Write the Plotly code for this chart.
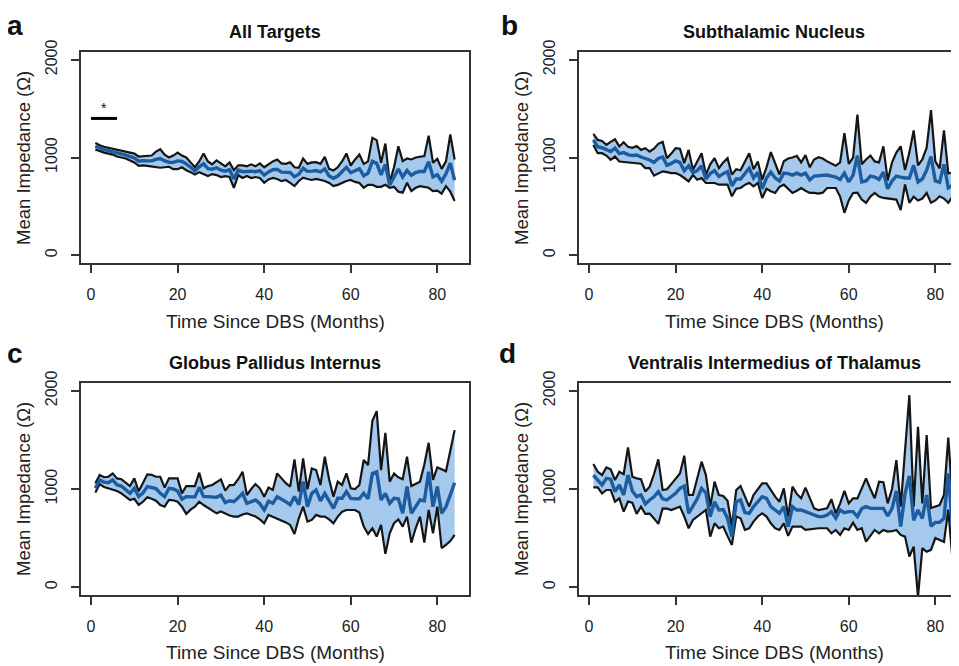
import plotly.graph_objects as go

months = list(range(1, 85))

# ---- Panel a: All Targets ----
upper_a = [1150,1125,1110,1100,1090,1080,1070,1060,1050,1040,
           1010,1015,1015,1020,1060,1085,1030,1000,1020,1050,
           1020,1000,950,900,960,1040,960,930,970,940,
           910,950,870,920,920,910,930,910,940,900,
           930,960,980,940,935,952,900,895,990,935,
           950,952,935,1007,884,867,900,960,1041,918,
           980,1030,935,960,1201,1178,946,1143,745,900,
           1115,963,990,980,1000,1010,1014,1224,946,986,
           884,960,1235,980]
lower_a = [1082,1065,1050,1040,1030,1010,1000,990,970,950,
           915,920,915,910,900,895,900,905,880,880,
           900,870,850,825,850,830,810,830,820,800,
           810,800,690,820,790,810,790,800,790,741,
           776,790,780,758,770,740,707,760,793,780,
           770,780,770,760,740,707,720,740,760,770,
           750,740,690,720,720,700,700,720,690,700,
           650,640,742,656,690,707,700,690,656,660,
           630,707,650,554]
mean_a = [1115,1095,1080,1070,1060,1045,1035,1025,1010,995,
          962,968,965,965,980,990,965,952,950,965,
          960,935,900,862,905,935,885,880,895,870,
          860,875,780,870,855,860,860,855,865,820,
          853,875,880,850,852,846,803,828,890,858,
          860,866,852,883,812,787,810,850,900,844,
          865,885,812,840,960,940,823,930,718,800,
          883,800,866,818,845,858,857,957,801,823,
          757,833,943,767]

# ---- Panel b: Subthalamic Nucleus ----
upper_b = [1241,1180,1170,1129,1160,1186,1112,1156,1110,1100,
           1118,1078,1095,1061,1090,1140,1160,993,1040,1095,
           1090,942,1078,875,960,1044,824,930,993,892,
           950,993,824,880,870,960,1044,880,959,773,
           900,1055,940,826,962,990,1000,1017,950,1024,
           900,980,1003,990,960,940,915,950,1248,935,
           1000,1439,930,980,1020,960,950,1115,765,950,
           1050,1115,871,1050,1278,920,980,1100,1486,960,
           888,1278,837,844]
lower_b = [1129,1044,1044,1020,976,1010,959,955,950,945,
           940,936,892,892,814,840,858,850,841,841,
           820,790,756,820,773,790,739,739,739,722,
           722,722,603,680,688,720,740,705,740,586,
           680,654,637,700,722,680,637,660,688,660,
           637,637,630,640,688,688,688,600,434,560,
           637,640,569,536,600,637,600,586,580,569,
           569,462,724,536,600,560,580,637,536,560,
           603,580,536,603]
mean_b = [1180,1110,1100,1075,1060,1095,1040,1050,1030,1020,
          1025,1005,990,975,950,990,1005,920,940,965,
          950,865,915,845,865,915,780,835,865,805,
          835,855,710,780,780,840,890,790,850,680,
          790,850,790,760,840,835,820,840,820,840,
          770,810,815,815,820,810,800,775,840,750,
          820,1020,750,760,810,800,775,850,680,760,
          810,800,790,790,920,750,780,870,1010,760,
          745,930,690,715]

# ---- Panel c: Globus Pallidus Internus ----
upper_c = [1058,1142,1120,1125,1159,1108,1100,1060,1030,1108,
           976,1060,1149,1145,1125,1125,1014,1108,1108,1108,
           956,1030,1030,1030,1166,1007,1030,1041,1070,1098,
           983,1040,1041,1100,1176,939,1000,1051,1007,922,
           1014,990,1159,1108,1060,1024,1302,973,1312,997,
           1210,1193,1041,1329,1100,922,1075,1041,1159,1007,
           1000,1041,1295,1244,1695,1793,1193,1573,1075,1159,
           1120,1100,1329,1030,1050,1075,1250,1471,1092,1220,
           1200,1180,1390,1600]
lower_c = [963,1051,1020,1007,1000,980,956,920,888,900,
           837,870,915,900,880,837,820,888,885,870,
           820,746,790,820,871,837,810,786,752,770,
           746,730,719,719,740,752,735,719,690,651,
           736,719,700,685,660,634,542,702,820,668,
           685,736,719,719,690,651,719,769,786,786,
           786,760,617,542,600,515,634,339,549,651,
           690,617,719,454,600,719,454,786,549,820,
           397,430,470,532]
mean_c = [1007,1092,1070,1065,1092,1041,1030,990,956,1007,
          922,960,1024,1015,1005,956,922,1007,1000,980,
          895,922,922,920,1017,922,922,915,915,939,
          861,880,871,910,956,854,870,888,850,786,
          875,854,922,900,871,840,922,840,1075,820,
          956,990,880,956,880,803,905,905,973,905,
          900,900,956,900,1159,1176,888,956,854,905,
          900,752,1024,752,820,888,880,1176,820,1024,
          752,820,940,1064]

# ---- Panel d: Ventralis Intermedius of Thalamus ----
upper_d = [1254,1176,1142,1220,1200,1092,1176,1150,1424,1125,
           1108,1100,973,1024,1150,1302,990,997,1050,1108,
           1159,1339,939,939,1100,1278,1142,820,1075,939,
           929,880,617,990,1030,920,820,939,1000,1058,
           1058,990,922,871,1007,719,1024,950,905,1014,
           900,803,786,795,803,895,752,850,980,854,
           905,905,1000,1108,1000,905,1075,1070,854,1000,
           1295,820,1390,1956,820,1634,854,1549,806,820,
           837,939,1525,888]
lower_d = [1017,1017,956,990,990,871,905,769,871,860,
           746,820,746,750,700,644,803,800,786,800,
           820,720,600,685,720,752,786,515,651,600,
           617,520,430,719,702,583,600,668,720,752,
           719,650,600,583,651,522,617,617,617,583,
           590,600,600,600,600,549,583,532,600,583,
           658,583,600,464,530,583,549,583,566,570,
           583,532,515,312,413,-100,397,360,380,500,
           480,460,790,261]
mean_d = [1142,1092,1041,1108,1100,973,1041,939,1142,980,
          922,940,847,888,920,973,900,888,920,956,
          1007,1030,752,820,900,1007,960,719,871,786,
          790,700,515,871,888,760,752,820,870,922,
          905,820,786,752,820,617,820,786,786,769,
          750,735,719,719,735,769,702,786,759,769,
          769,719,800,820,803,803,803,803,725,800,
          980,617,950,1134,680,786,700,939,620,660,
          660,700,1159,583]

titles = ["All Targets", "Subthalamic Nucleus",
          "Globus Pallidus Internus", "Ventralis Intermedius of Thalamus"]
letters = ["a", "b", "c", "d"]
x_ticks = [0, 20, 40, 60, 80]
y_ticks = [0, 1000, 2000]
x_title = "Time Since DBS (Months)"
y_title = "Mean Impedance (Ω)"

# significance marker in panel a
sig_x = [0, 6]
sig_y = 1400
sig_label = "*"

panels = [(upper_a, lower_a, mean_a), (upper_b, lower_b, mean_b),
          (upper_c, lower_c, mean_c), (upper_d, lower_d, mean_d)]
for p in panels:
    for s in p:
        assert len(s) == 84, len(s)

W, H = 959, 666
OFF = 8  # page body margin offset
FILL = "#a5c9ec"
MEAN = "#1c5c9f"
EDGE = "#151515"
AXC = "#333333"
FONT = "Liberation Sans, Arial, sans-serif"

def fx(p):
    return (p - OFF) / W

def fy(p):
    return 1 - (p - OFF) / H

fig = go.Figure()

for i, (up, lo, mn) in enumerate(panels):
    ax = "" if i == 0 else str(i + 1)
    xr, yr = "x" + ax, "y" + ax
    fig.add_trace(go.Scatter(x=months, y=lo, mode="lines", line=dict(width=0, color=FILL),
                             xaxis=xr, yaxis=yr, showlegend=False, hoverinfo="skip"))
    fig.add_trace(go.Scatter(x=months, y=up, mode="lines", line=dict(width=0, color=FILL),
                             fill="tonexty", fillcolor=FILL,
                             xaxis=xr, yaxis=yr, showlegend=False, hoverinfo="skip"))
    fig.add_trace(go.Scatter(x=months, y=lo, mode="lines", line=dict(width=2.2, color=EDGE),
                             xaxis=xr, yaxis=yr, showlegend=False))
    fig.add_trace(go.Scatter(x=months, y=up, mode="lines", line=dict(width=2.2, color=EDGE),
                             xaxis=xr, yaxis=yr, showlegend=False))
    fig.add_trace(go.Scatter(x=months, y=mn, mode="lines", line=dict(width=3.4, color=MEAN),
                             xaxis=xr, yaxis=yr, showlegend=False))

# significance bar
fig.add_trace(go.Scatter(x=sig_x, y=[sig_y, sig_y], mode="lines",
                         line=dict(width=3, color="black"), showlegend=False,
                         xaxis="x", yaxis="y"))

left_x = [fx(81), fx(469)]
right_x = [fx(579), min(1.0, fx(967))]
top_y = [fy(263), fy(52)]
bot_y = [fy(595), fy(383)]
xr_left = [-2.32, 87.32]
xr_right = [-2.32, 87.32]
yrange = [-80, 2080]

common_x = dict(tickvals=x_ticks, ticks="outside", ticklen=8, tickwidth=1.5, tickcolor=AXC,
                showline=True, linecolor=AXC, linewidth=1.5, mirror=True, automargin=False,
                showgrid=False, zeroline=False, ticklabelstandoff=8,
                tickfont=dict(family=FONT, size=16, color="#222"))
common_y = dict(tickvals=y_ticks, ticks="outside", ticklen=8, tickwidth=1.5, tickcolor=AXC,
                showline=True, linecolor=AXC, linewidth=1.5, automargin=False,
                showgrid=False, zeroline=False, tickangle=-90, range=yrange,
                ticklabelstandoff=8,
                tickfont=dict(family=FONT, size=16, color="#222"))

layout = dict(
    width=W, height=H, margin=dict(l=0, r=0, t=0, b=0, autoexpand=False),
    paper_bgcolor="white", plot_bgcolor="white", showlegend=False,
    font=dict(family=FONT, color="#222"),
    xaxis=dict(domain=left_x, range=xr_left, anchor="y", **common_x),
    yaxis=dict(domain=top_y, anchor="x", mirror=True, **common_y),
    xaxis2=dict(domain=right_x, range=xr_right, anchor="y2", **common_x),
    yaxis2=dict(domain=top_y, anchor="x2", mirror=True, **common_y),
    xaxis3=dict(domain=left_x, range=xr_left, anchor="y3", **common_x),
    yaxis3=dict(domain=bot_y, anchor="x3", mirror=True, **common_y),
    xaxis4=dict(domain=right_x, range=xr_right, anchor="y4", **common_x),
    yaxis4=dict(domain=bot_y, anchor="x4", mirror=True, **common_y),
)
fig.update_layout(**layout)

ann = []
centers_x = [275, 774, 275, 774]
title_y = [32, 32, 363, 363]
letter_pos = [(15, 26), (509, 26), (15, 354), (507, 354)]
ylab_x = [23, 521, 23, 521]
ylab_y = [158, 158, 489, 489]
xlab_y = [321, 321, 652, 652]
for i in range(4):
    ann.append(dict(text="<b>%s</b>" % titles[i], x=fx(centers_x[i]), y=fy(title_y[i]),
                    xref="paper", yref="paper", showarrow=False, xanchor="center", yanchor="middle",
                    font=dict(family=FONT, size=18, color="#111")))
    ann.append(dict(text="<b>%s</b>" % letters[i], x=fx(letter_pos[i][0]), y=fy(letter_pos[i][1]),
                    xref="paper", yref="paper", showarrow=False, xanchor="center", yanchor="middle",
                    font=dict(family=FONT, size=28, color="#111")))
    ann.append(dict(text=y_title, x=fx(ylab_x[i]), y=fy(ylab_y[i]), textangle=-90,
                    xref="paper", yref="paper", showarrow=False, xanchor="center", yanchor="middle",
                    font=dict(family=FONT, size=18.5, color="#222")))
    ann.append(dict(text=x_title, x=fx(centers_x[i]), y=fy(xlab_y[i]),
                    xref="paper", yref="paper", showarrow=False, xanchor="center", yanchor="middle",
                    font=dict(family=FONT, size=19, color="#222")))
ann.append(dict(text=sig_label, x=(sig_x[0] + sig_x[1]) / 2, y=sig_y, xref="x", yref="y",
                showarrow=False, yanchor="bottom", yshift=0,
                font=dict(family=FONT, size=14, color="#111")))
fig.update_layout(annotations=ann)

fig.write_html("out.html")
